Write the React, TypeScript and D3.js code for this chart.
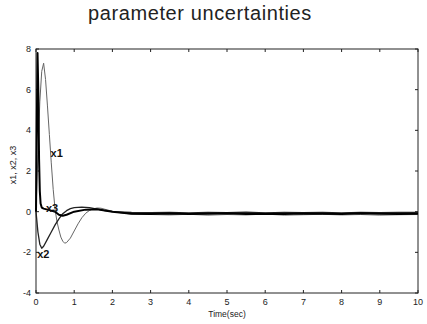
import * as d3 from "d3";

// time points (sec) and responses
const tX1 = [0, 0.05, 0.1, 0.15, 0.2, 0.25, 0.3, 0.35, 0.4, 0.45, 0.5, 0.55, 0.6, 0.65, 0.7, 0.75, 0.8, 0.9, 1.0, 1.1, 1.2, 1.3, 1.4, 1.5, 1.6, 1.7, 1.8, 2.0, 2.2, 2.5, 3, 3.5, 4, 4.5, 5, 5.5, 6, 6.5, 7, 7.5, 8, 8.5, 9, 9.5, 10];
const x1 = [0, 2.8, 5.4, 6.9, 7.3, 6.5, 5.2, 3.8, 2.4, 1.1, 0.1, -0.5, -0.9, -1.25, -1.45, -1.55, -1.52, -1.3, -0.95, -0.6, -0.3, -0.08, 0.06, 0.14, 0.18, 0.17, 0.12, 0.02, -0.05, -0.12, -0.14, -0.16, -0.13, -0.17, -0.14, -0.16, -0.12, -0.17, -0.15, -0.13, -0.16, -0.14, -0.17, -0.15, -0.14];

const tX2 = [0, 0.05, 0.1, 0.15, 0.2, 0.3, 0.4, 0.5, 0.6, 0.7, 0.8, 0.9, 1.0, 1.2, 1.4, 1.6, 1.8, 2.0, 2.5, 3, 3.5, 4, 4.5, 5, 5.5, 6, 6.5, 7, 7.5, 8, 8.5, 9, 9.5, 10];
const x2 = [0, -1.0, -1.6, -1.8, -1.7, -1.35, -1.0, -0.65, -0.35, -0.1, 0.05, 0.15, 0.2, 0.22, 0.2, 0.12, 0.05, 0, -0.04, -0.05, -0.03, -0.06, -0.04, -0.05, -0.02, -0.06, -0.04, -0.05, -0.03, -0.06, -0.04, -0.05, -0.03, -0.04];

const tX3 = [0, 0.02, 0.04, 0.06, 0.08, 0.1, 0.12, 0.15, 0.2, 0.3, 0.4, 0.5, 0.6, 0.7, 0.8, 1.0, 1.3, 1.6, 2.0, 2.5, 3, 3.5, 4, 4.5, 5, 5.5, 6, 6.5, 7, 7.5, 8, 8.5, 9, 9.5, 10];
const x3 = [0, 4.0, 7.8, 6.0, 2.6, 1.0, 0.4, 0.2, 0.15, 0.1, 0.05, 0.0, -0.15, -0.2, -0.15, 0.0, 0.1, 0.12, 0.0, -0.1, -0.11, -0.09, -0.12, -0.1, -0.08, -0.11, -0.1, -0.12, -0.09, -0.1, -0.11, -0.08, -0.1, -0.12, -0.1];

const xTicks = [0, 1, 2, 3, 4, 5, 6, 7, 8, 9, 10];
const yTicks = [-4, -2, 0, 2, 4, 6, 8];

const series = [
  { name: "x1", t: tX1, v: x1, color: "#666", width: 1 },
  { name: "x2", t: tX2, v: x2, color: "#222", width: 1.3 },
  { name: "x3", t: tX3, v: x3, color: "#000", width: 2 },
];

// curve labels placed like in the figure (data coordinates)
const labels = [
  { text: "x1", t: 0.38, v: 2.7 },
  { text: "x2", t: 0.03, v: -2.3 },
  { text: "x3", t: 0.26, v: 0.0 },
];

export default function App() {
  const W = 427;
  const H = 324;
  const m = { left: 36, right: 9, top: 49, bottom: 31 };
  const x = d3.scaleLinear().domain([0, 10]).range([m.left, W - m.right]);
  const y = d3.scaleLinear().domain([-4, 8]).range([H - m.bottom, m.top]);
  const line = d3.line<number>();
  const font = "Liberation Sans, Arial, Helvetica, sans-serif";
  const tk = 3;

  return (
    <svg width={W} height={H} style={{ position: "absolute", left: 0, top: 0, background: "#fff" }}>
      <text x={200} y={20} textAnchor="middle" fontSize={20} letterSpacing={0.6} fontFamily={font} fill="#222">
        parameter  uncertainties
      </text>

      <g stroke="#222" strokeWidth={1}>
        <rect x={x(0)} y={y(8)} width={x(10) - x(0)} height={y(-4) - y(8)} fill="none" />
        {xTicks.map((t) => (
          <g key={"xt" + t}>
            <line x1={x(t)} x2={x(t)} y1={y(-4)} y2={y(-4) - tk} />
            <line x1={x(t)} x2={x(t)} y1={y(8)} y2={y(8) + tk} />
          </g>
        ))}
        {yTicks.map((v) => (
          <g key={"yt" + v}>
            <line x1={x(0)} x2={x(0) + tk} y1={y(v)} y2={y(v)} />
            <line x1={x(10)} x2={x(10) - tk} y1={y(v)} y2={y(v)} />
          </g>
        ))}
      </g>

      {series.map((s) => (
        <path
          key={s.name}
          d={line(s.t.map((t, i) => [x(t), y(s.v[i])] as [number, number])) || ""}
          fill="none"
          stroke={s.color}
          strokeWidth={s.width}
          strokeLinejoin="round"
        />
      ))}

      <g fontFamily={font} fontSize={9} fill="#222">
        {xTicks.map((t) => (
          <text key={"xl" + t} x={x(t)} y={305} textAnchor="middle">
            {t}
          </text>
        ))}
        {yTicks.map((v) => (
          <text key={"yl" + v} x={31} y={y(v) + 3} textAnchor="end">
            {v}
          </text>
        ))}
        <text x={227} y={317} textAnchor="middle" fontSize={8.5}>
          Time(sec)
        </text>
        <text transform="translate(16,165) rotate(-90)" textAnchor="middle" fontSize={9}>
          x1, x2, x3
        </text>
      </g>

      <g fontFamily={font} fontSize={11} fill="#111" fontWeight="600">
        {labels.map((l) => (
          <text key={l.text} x={x(l.t)} y={y(l.v)}>
            {l.text}
          </text>
        ))}
      </g>
    </svg>
  );
}
